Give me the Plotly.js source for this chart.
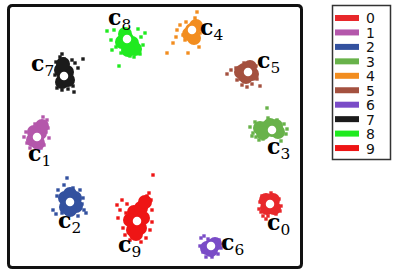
<!DOCTYPE html>
<html>
<head>
<meta charset="utf-8">
<script src="https://cdn.plot.ly/plotly-3.0.1.min.js"></script>
<style>html,body{margin:0;padding:0;background:#fff;}#chart{width:402px;height:275px;}</style>
</head>
<body>
<div id="chart"></div>
<script>
// Categories (digit classes) and colours
const categories = ['0','1','2','3','4','5','6','7','8','9'];
const colors = ['#e8282b','#b457ab','#33519f','#68b24a','#f28d1f','#a4513f','#7a4cc7','#1b1b1b','#1fea1f','#ee1515'];

// Cluster centres c_k (embedding units)
const centerX = [270, 37, 70, 272, 192, 248, 211, 64, 127, 137];
const centerY = [204, 137, 202, 130, 30, 72, 246, 76, 39, 221];

// Dense core of each cluster
const coreX = [
  [270,267,273,266,274],
  [37,33,40,42,34,38],
  [70,65,75,66,76,70,70],
  [272,278,266,260,270,276,263],
  [192,189,194,196],
  [248,244,252,246,241,250],
  [211,207,215,211],
  [64,61,67,62,68,63],
  [127,122,132,125,135,128],
  [137,134,141,133,140,130,143,145,136]
];
const coreY = [
  [204,208,200,200,208],
  [137,140,133,126,132,143],
  [202,198,198,207,206,194,210],
  [130,132,128,128,125,126,133],
  [30,34,38,26],
  [72,70,74,77,72,67],
  [246,248,244,250],
  [76,70,72,82,80,64],
  [39,42,43,34,49,50],
  [221,212,208,230,228,220,218,202,234]
];

// Scattered samples around each cluster
const ptsX = [
  [261,263,266,259,268,276,279,262,271,281,280,260],
  [43,47,45,48,46,24,26,30,41,49,35,27,44],
  [67,64,58,53,56,84,86,80,78,62,73,83,57,82],
  [267,253,256,259,263,250,255,281,286,284,268,277,252,287],
  [197,195,186,180,177,176,173,167,188,199,197,185,200,183],
  [227,231,236,242,247,252,260,257,240,256,244,237],
  [201,204,203,206,212,218,219,208,221,200],
  [83,62,60,64,56,75,72,78,57,62,68,73,55,74],
  [107,145,141,119,140,112,116,114,138,130,134,121,111,143],
  [153,122,117,120,127,147,149,151,152,123,125,150,146,130,141,118,126,152]
];
const ptsY = [
  [212,216,219,209,216,214,199,196,193,206,211,202],
  [117,120,123,128,132,137,132,148,148,138,124,143,145],
  [178,185,190,210,214,210,213,190,216,213,188,198,196,204],
  [108,133,137,140,139,127,122,141,134,124,118,120,136,129],
  [12,18,22,25,30,37,43,53,53,47,41,40,33,35],
  [74,70,68,85,87,84,86,79,79,66,63,80],
  [238,236,252,257,257,254,240,239,248,246],
  [59,54,57,59,62,63,60,68,88,90,89,86,75,92],
  [31,33,37,66,54,50,47,30,29,56,57,53,40,45],
  [175,200,205,210,204,196,193,200,210,228,235,230,238,240,242,218,213,222]
];

// ---------- layout helpers (pixel geometry of the figure) ----------
const W = 402, H = 275;
const M = {l: 9, r: 99, t: 6, b: 7};
const PW = W - M.l - M.r, PH = H - M.t - M.b;
const px = x => (x - M.l) / PW;
const py = y => (H - M.b - y) / PH;

// label placement (text centre, pixel) for each c_k
const labelPos = [
  [278,224],[39,155],[69,222],[278,148],[211,29],[268,62],[232,244],[42,65],[119,19],[129,246]
];

const traces = [];
categories.forEach((c, i) => {
  traces.push({
    x: ptsX[i], y: ptsY[i], type: 'scatter', mode: 'markers', hoverinfo: 'skip', showlegend: false,
    marker: {symbol: 'square', size: 3.4, color: colors[i], line: {width: 0}}
  });
  traces.push({
    x: coreX[i], y: coreY[i], type: 'scatter', mode: 'markers', hoverinfo: 'skip', showlegend: false,
    marker: {symbol: 'circle', size: 14, color: colors[i], line: {width: 0}}
  });
});
traces.push({
  x: centerX, y: centerY, type: 'scatter', mode: 'markers', hoverinfo: 'skip', showlegend: false,
  marker: {symbol: 'circle', size: 8.5, color: '#ffffff', line: {width: 0}}
});

const annotations = categories.map((c, i) => ({
  xref: 'paper', yref: 'paper', x: px(labelPos[i][0]), y: py(labelPos[i][1]),
  xanchor: 'center', yanchor: 'middle', showarrow: false,
  text: '<b>c</b><sub>' + c + '</sub>',
  font: {family: 'DejaVu Serif', size: 22, color: '#000'}
}));

const shapes = [];
// rounded plot frame
(function(){
  const x0 = 8.5, x1 = 301.5, y0 = 5.5, y1 = 267.5, r = 4;
  const p = (x, y) => px(x) + ',' + py(y);
  shapes.push({
    type: 'path', xref: 'paper', yref: 'paper',
    path: 'M' + p(x0 + r, y0) + ' L' + p(x1 - r, y0) + ' Q' + p(x1, y0) + ' ' + p(x1, y0 + r) +
          ' L' + p(x1, y1 - r) + ' Q' + p(x1, y1) + ' ' + p(x1 - r, y1) +
          ' L' + p(x0 + r, y1) + ' Q' + p(x0, y1) + ' ' + p(x0, y1 - r) +
          ' L' + p(x0, y0 + r) + ' Q' + p(x0, y0) + ' ' + p(x0 + r, y0) + ' Z',
    line: {color: '#111', width: 3}, fillcolor: 'rgba(0,0,0,0)'
  });
})();
// legend box
shapes.push({type: 'rect', xref: 'paper', yref: 'paper', x0: px(332.5), x1: px(390.5), y0: py(5.5), y1: py(159.5),
  line: {color: '#333', width: 1.5}, fillcolor: 'rgba(0,0,0,0)'});
categories.forEach((c, i) => {
  const yc = 18 + i * 14.45;
  shapes.push({type: 'rect', xref: 'paper', yref: 'paper', x0: px(335), x1: px(359), y0: py(yc - 3), y1: py(yc + 3),
    line: {width: 0}, fillcolor: colors[i]});
  annotations.push({xref: 'paper', yref: 'paper', x: px(365), y: py(yc), xanchor: 'left', yanchor: 'middle',
    showarrow: false, height: 13, borderpad: 0, text: c, font: {family: 'DejaVu Sans', size: 14, color: '#111'}});
});

const layout = {
  width: W, height: H, margin: M, paper_bgcolor: '#fff', plot_bgcolor: '#fff', showlegend: false,
  xaxis: {range: [M.l, W - M.r], visible: false, fixedrange: true},
  yaxis: {range: [H - M.b, M.t], visible: false, fixedrange: true},
  shapes: shapes, annotations: annotations
};
Plotly.newPlot('chart', traces, layout, {staticPlot: true, displayModeBar: false});
</script>
</body>
</html>
